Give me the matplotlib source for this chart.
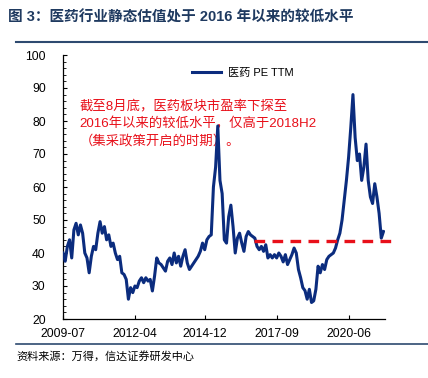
import matplotlib
matplotlib.use('Agg')
import matplotlib.pyplot as plt
import numpy as np

plt.rcParams['font.family'] = ['Liberation Sans', 'Noto Sans CJK SC', 'DejaVu Sans']

# monthly PE TTM, month 0 = 2009-07
pe = [40, 37.5, 42, 44, 38.5, 47, 49, 45.5, 48.5, 46,
      40, 38.5, 34, 39, 42, 41, 46, 49.5, 46, 48,
      44, 45.5, 42, 43, 40, 38, 39, 34, 33.5, 32,
      26, 29.5, 28, 30, 29.5, 31.5, 32.5, 31, 32.5, 31.5,
      32, 28.5, 33, 38.5, 37, 36.5, 35.5, 34.5, 37.5, 38.5,
      36.5, 40, 37, 39, 36, 39, 41, 37, 35, 36,
      37, 38, 39, 40.5, 43, 41, 44, 45, 45.5, 60,
      66, 78.5, 62, 58, 44, 43, 51, 54.5, 48, 40,
      44.5, 46, 43, 40.5, 45, 46.5, 45.5, 45, 44.5, 42,
      41, 42, 40.5, 42.5, 38.5, 39.5, 38.5, 39.5, 38.5, 40,
      39, 37.3, 39.5, 36.5, 38, 39.5, 41.5, 40, 35, 32.5,
      29.5, 28.6, 26, 29, 25, 25.5, 29, 36, 34, 36.5,
      35, 38, 39, 39.5, 40, 41.5, 44, 46, 50, 56,
      62, 69, 78, 88, 75, 68, 70, 62, 66, 73,
      62, 57, 55, 61, 57, 52, 44.5, 46.5]
months = np.arange(len(pe))

tick_pos = [0, 33, 65, 98, 131]
tick_labels = ['2009-07', '2012-04', '2014-12', '2017-09', '2020-06']

ref_level = 43.5
ref_start = 87.5
ref_end = 151

navy = '#0B2C7E'
red = '#E8101A'

fig = plt.figure(figsize=(4.28, 3.78), dpi=100)
ax = fig.add_axes([63/428, 1-319/378, (385-63)/428, (319-55)/378])

ax.plot(months, pe, color=navy, lw=2.2, label='医药 PE TTM', zorder=3)
ax.plot([ref_start, ref_end], [ref_level, ref_level], color=red, lw=2.4,
        dashes=(3.2, 2.2), clip_on=False, zorder=4)

ax.set_xlim(0, 147.7)
ax.set_ylim(20, 100)
ax.set_yticks(np.arange(20, 101, 10))
ax.set_yticks(np.arange(20, 101, 2), minor=True)
ax.set_xticks(tick_pos)
ax.set_xticklabels(tick_labels)
ax.tick_params(direction='in', labelsize=8.7, length=3, width=0.8, colors='black')
ax.tick_params(which='minor', direction='in', length=2.2, width=0.6)
ax.tick_params(axis='y', pad=12.5)
ax.tick_params(axis='x', pad=6.5)
for s in ['top', 'right']:
    ax.spines[s].set_visible(False)
for s in ['left', 'bottom']:
    ax.spines[s].set_linewidth(0.9)

leg = ax.legend(loc='upper left', bbox_to_anchor=(0.37, 0.99), frameon=False,
                fontsize=8, handlelength=2.6, handletextpad=0.6)

ax.text(0.052, 0.83, '截至8月底，医药板块市盈率下探至\n2016年以来的较低水平，仅高于2018H2\n（集采政策开启的时期）。',
        transform=ax.transAxes, color=red, fontsize=9.6, va='top', ha='left',
        linespacing=1.45, zorder=2)

fig.text(8/428, 1-18/378, '图 3：医药行业静态估值处于 2016 年以来的较低水平',
         fontsize=10.5, fontweight='bold', color='#1F3A60', va='center', ha='left')
fig.add_artist(plt.Line2D([16/428, 1], [1-42/378, 1-42/378], color='#2E4A70', lw=1.5))
fig.add_artist(plt.Line2D([16/428, 1], [1-344/378, 1-344/378], color='#2E4A70', lw=1.2))
fig.text(16/428, 1-356/378, '资料来源：万得，信达证券研发中心', fontsize=8,
         style='italic', color='black', va='center', ha='left')

fig.savefig('out.png', dpi=100)
